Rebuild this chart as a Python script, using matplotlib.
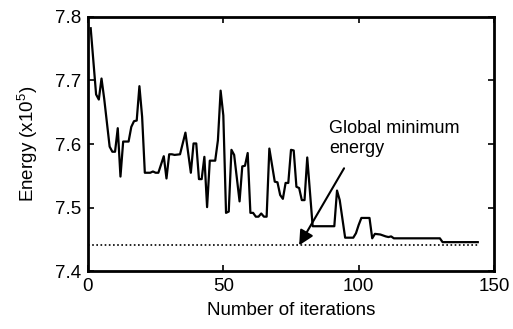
import matplotlib
matplotlib.use('Agg')
from matplotlib import pyplot as plt
import numpy as np

plt.rcParams['font.family'] = ['Liberation Sans', 'DejaVu Sans']
plt.rcParams['mathtext.fontset'] = 'custom'
plt.rcParams['mathtext.rm'] = 'Liberation Sans'

# energy trace (iteration, energy x1e5)
iters = [1, 3, 4, 5, 6, 8, 9, 10, 11, 12, 13, 15, 16, 17, 18, 19, 20, 21, 23, 24,
         25, 26, 28, 29, 30, 31, 32, 34, 35, 36, 38, 39, 40, 41, 42, 43, 44, 45, 47, 48,
         49, 50, 51, 52, 53, 54, 56, 57, 58, 59, 60, 61, 62, 63, 64, 65, 66, 67, 69, 70,
         71, 72, 73, 74, 75, 76, 77, 78, 79, 80, 81, 83, 91, 92, 93, 95, 98, 99, 100, 101,
         104, 105, 106, 108, 110, 111, 112, 113, 130, 131, 144]
energy = [7.782, 7.678, 7.670, 7.703, 7.671, 7.596, 7.588, 7.588, 7.625, 7.549,
          7.604, 7.604, 7.627, 7.636, 7.637, 7.691, 7.643, 7.555, 7.555, 7.557,
          7.555, 7.555, 7.581, 7.546, 7.584, 7.584, 7.583, 7.584, 7.601, 7.618,
          7.555, 7.601, 7.601, 7.545, 7.545, 7.580, 7.501, 7.574, 7.574, 7.606,
          7.684, 7.645, 7.492, 7.494, 7.591, 7.583, 7.510, 7.565, 7.566, 7.586,
          7.492, 7.492, 7.486, 7.486, 7.491, 7.486, 7.486, 7.593, 7.541, 7.540,
          7.520, 7.514, 7.539, 7.539, 7.591, 7.590, 7.533, 7.531, 7.512, 7.512,
          7.579, 7.471, 7.471, 7.527, 7.512, 7.453, 7.453, 7.460, 7.473, 7.484,
          7.484, 7.452, 7.459, 7.458, 7.455, 7.454, 7.455, 7.452, 7.452, 7.446,
          7.446]
global_min = 7.441
min_span = [0, 144]

fig = plt.figure(figsize=(5.13, 3.29), dpi=100)
ax = fig.add_axes([0.1715, 0.175, 0.7915, 0.774])

ax.plot(iters, energy, color='k', lw=1.6)
ax.plot(min_span, [global_min, global_min], color='k', lw=1.2, ls=(0, (1, 1.5)))

ax.annotate('', xy=(78, global_min), xytext=(94.6, 7.562),
            arrowprops=dict(arrowstyle='-|>', mutation_scale=22, lw=1.5, color='k',
                            shrinkA=0, shrinkB=0))
ax.text(89, 7.638, 'Global minimum\nenergy', fontsize=13, ha='left', va='top',
        linespacing=1.25)

ax.set_xlim(0, 150)
ax.set_ylim(7.4, 7.8)
ax.set_xticks([0, 50, 100, 150])
ax.set_yticks([7.4, 7.5, 7.6, 7.7, 7.8])
ax.tick_params(direction='in', length=4, width=1.2, labelsize=13.5, top=True, right=True,
               pad=5)
for s in ax.spines.values():
    s.set_linewidth(2)

ax.set_xlabel('Number of iterations', fontsize=13.5, labelpad=5)
ax.set_ylabel('Energy (x10$^5$)', fontsize=13.5, labelpad=11)

fig.savefig('out.png', dpi=100)
